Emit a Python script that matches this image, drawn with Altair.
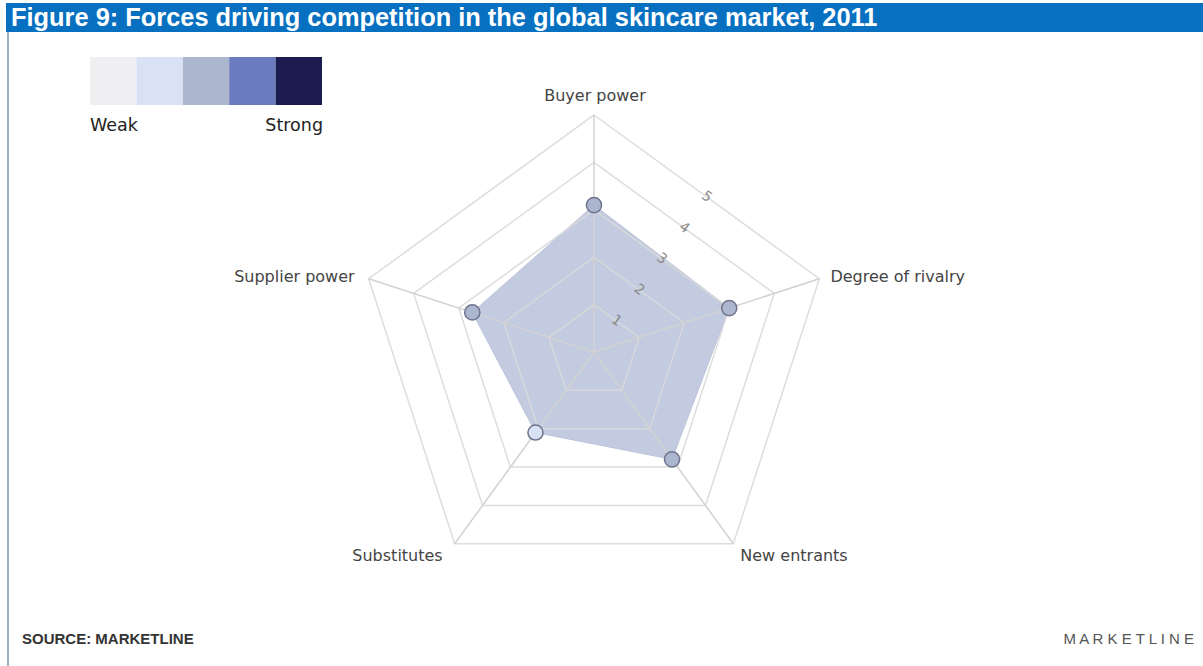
import math
import altair as alt
import pandas as pd

# ---------------- data ----------------
categories = ["Buyer power", "Degree of rivalry", "New entrants", "Substitutes", "Supplier power"]
scores = [3.1, 3.0, 2.8, 2.1, 2.7]
angles_deg = [90, 18, -54, -126, 162]
ring_levels = [1, 2, 3, 4, 5]
tick_labels = ["1", "2", "3", "4", "5"]
legend_colors = ["#efeff1", "#d9e2f5", "#adb6cf", "#6a7cbf", "#1d1c50"]
legend_ends = ["Weak", "Strong"]
title_text = "Figure 9: Forces driving competition in the global skincare market, 2011"
source_text = "SOURCE: MARKETLINE"
brand_text = "M A R K E T L I N E"

R_MAX = 5
W, H = 1203, 666
UNIT = 47.4          # pixels per score unit
CX, CY = 594, 352    # pixel position of the centre

# ---------------- derived tables ----------------
rad = [math.radians(a) for a in angles_deg]
poly_df = pd.DataFrame({
    "idx": range(len(categories)),
    "category": categories,
    "score": scores,
    "x": [s * math.cos(r) for s, r in zip(scores, rad)],
    "y": [s * math.sin(r) for s, r in zip(scores, rad)],
})

ring_rows = []
for lv in ring_levels:
    for i, r in enumerate(rad):
        ring_rows.append({"ring": lv, "idx": i, "x": lv * math.cos(r), "y": lv * math.sin(r)})
ring_df = pd.DataFrame(ring_rows)

spoke_df = pd.DataFrame({
    "category": categories,
    "x": [0.0] * len(rad), "y": [0.0] * len(rad),
    "x2": [R_MAX * math.cos(r) for r in rad],
    "y2": [R_MAX * math.sin(r) for r in rad],
})

mid = math.radians(54)
half = math.cos(math.radians(36))
tick_df = pd.DataFrame({
    "label": tick_labels,
    "x": [lv * half * math.cos(mid) for lv in ring_levels],
    "y": [lv * half * math.sin(mid) for lv in ring_levels],
})

lab_df = pd.DataFrame({
    "category": categories,
    "x": [R_MAX * math.cos(r) for r in rad],
    "y": [R_MAX * math.sin(r) for r in rad],
})

xs = alt.Scale(domain=[-CX / UNIT, (W - CX) / UNIT], nice=False, zero=False)
ys = alt.Scale(domain=[-(H - CY) / UNIT, CY / UNIT], nice=False, zero=False)
X = alt.X("x:Q", scale=xs, axis=None)
Y = alt.Y("y:Q", scale=ys, axis=None)

one = pd.DataFrame({"a": [0]})

layers = []

# title bar
layers.append(alt.Chart(one).mark_rect(color="#0870c0").encode(
    x=alt.value(6), x2=alt.value(W), y=alt.value(3), y2=alt.value(32)))
layers.append(alt.Chart(one).mark_text(
    text=title_text, color="white", font="Liberation Sans", fontSize=25.4, fontWeight="bold",
    align="left", baseline="middle").encode(x=alt.value(11), y=alt.value(18)))
# left frame line
layers.append(alt.Chart(one).mark_rule(color="#7b96b0", strokeWidth=1.5).encode(
    x=alt.value(8), y=alt.value(32), y2=alt.value(H)))

# legend swatches
for i, c in enumerate(legend_colors):
    layers.append(alt.Chart(one).mark_rect(color=c).encode(
        x=alt.value(90 + 46.4 * i), x2=alt.value(90 + 46.4 * (i + 1)),
        y=alt.value(57), y2=alt.value(105)))
layers.append(alt.Chart(one).mark_text(
    text=legend_ends[0], font="DejaVu Sans", fontSize=17.5, color="#222", align="left",
    baseline="middle").encode(x=alt.value(90), y=alt.value(126)))
layers.append(alt.Chart(one).mark_text(
    text=legend_ends[1], font="DejaVu Sans", fontSize=17.5, color="#222", align="right",
    baseline="middle").encode(x=alt.value(323), y=alt.value(126)))

# filled polygon
layers.append(alt.Chart(poly_df).mark_line(
    interpolate="linear-closed", fill="#c3cbe0", stroke="#bcc4db", strokeWidth=1).encode(
    x=X, y=Y, order="idx:Q"))

# grid rings and spokes
layers.append(alt.Chart(ring_df).mark_line(
    interpolate="linear-closed", color="#d9d9d9", strokeWidth=1.5, opacity=0.9).encode(
    x=X, y=Y, detail="ring:N", order="idx:Q"))
layers.append(alt.Chart(spoke_df).mark_rule(color="#d2d2d2", strokeWidth=1.5).encode(
    x=X, y=Y, x2="x2:Q", y2="y2:Q"))

# tick labels
layers.append(alt.Chart(tick_df).mark_text(
    font="DejaVu Sans", fontSize=14, color="#8a8a8a", angle=36).encode(
    x=X, y=Y, text="label:N"))

# points
layers.append(alt.Chart(poly_df).mark_point(
    filled=True, size=230, stroke="#6f748c", strokeWidth=1.5, opacity=1).encode(
    x=X, y=Y,
    fill=alt.Fill("score:Q", scale=alt.Scale(type="threshold", domain=[1.5, 2.5, 3.5, 4.5],
                                             range=legend_colors), legend=None)))

# category labels
lab_style = dict(font="DejaVu Sans", fontSize=16, color="#444")
specs = {
    "Buyer power": dict(align="center", dx=1, dy=-19),
    "Degree of rivalry": dict(align="left", dx=11, dy=-2),
    "New entrants": dict(align="left", dx=7, dy=12),
    "Substitutes": dict(align="right", dx=-12, dy=12),
    "Supplier power": dict(align="right", dx=-14, dy=-2),
}
for cat, sp in specs.items():
    layers.append(alt.Chart(lab_df).transform_filter(alt.datum.category == cat).mark_text(
        baseline="middle", **lab_style, **sp).encode(x=X, y=Y, text="category:N"))

# footer
layers.append(alt.Chart(one).mark_text(
    text=source_text, font="Liberation Sans", fontSize=15, fontWeight="bold", color="#333",
    align="left", baseline="middle").encode(x=alt.value(22), y=alt.value(639)))
layers.append(alt.Chart(one).mark_text(
    text=brand_text, font="Liberation Sans", fontSize=15, color="#555",
    align="right", baseline="middle").encode(x=alt.value(1194), y=alt.value(639)))

chart = alt.layer(*layers).properties(
    width=W, height=H, padding=0, autosize="none"
).configure_view(stroke=None)

chart.save("out.html", embed_options={"renderer": "svg", "actions": False})
